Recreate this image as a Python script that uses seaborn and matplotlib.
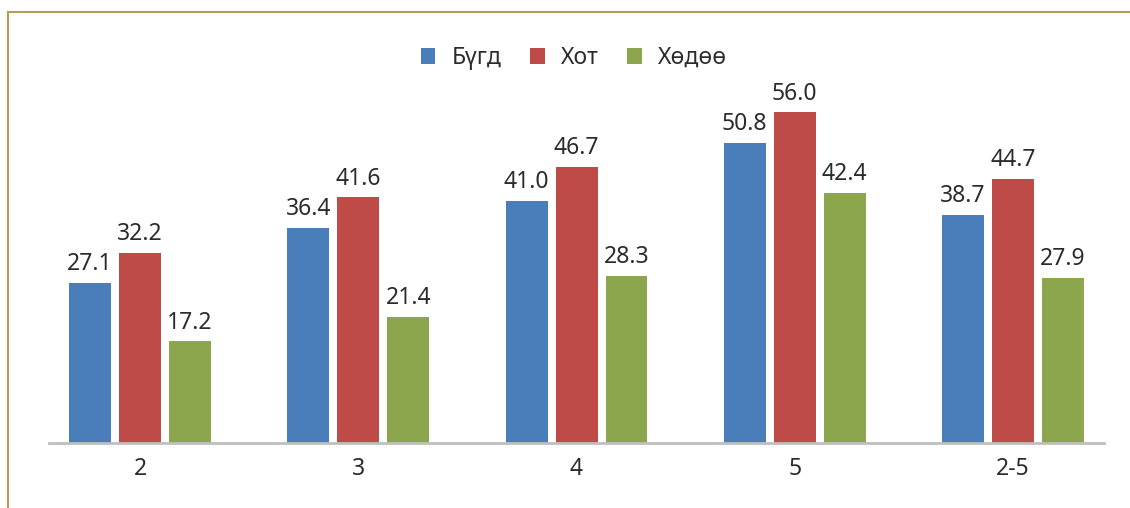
import pandas as pd
import matplotlib.pyplot as plt
import seaborn as sns
from matplotlib.patches import Rectangle

# data
ages = ["2", "3", "4", "5", "2-5"]
bugd = [27.1, 36.4, 41.0, 50.8, 38.7]
khot = [32.2, 41.6, 46.7, 56.0, 44.7]
khudoo = [17.2, 21.4, 28.3, 42.4, 27.9]
series_names = ["Бүгд", "Хот", "Хөдөө"]
colors = ["#4A7EBB", "#BE4B48", "#8BA64C"]

df = pd.DataFrame({
    "age": ages * 3,
    "value": bugd + khot + khudoo,
    "series": [s for s in series_names for _ in ages],
})

sns.set_theme(style="white")
plt.rcParams["font.family"] = ["Noto Sans", "DejaVu Sans"]

fs = 16.5
txt_color = "#2B2B2B"

fig = plt.figure(figsize=(11.3, 5.08), dpi=100)
ax = fig.add_axes([0.0434, 0.128, 0.9336, 0.754])

sns.barplot(
    data=df, x="age", y="value", hue="series",
    palette=colors, width=0.687, gap=0.16,
    saturation=1, linewidth=0, ax=ax, legend=True,
)

for container in ax.containers:
    ax.bar_label(container, fmt="%.1f", padding=5, fontsize=fs, color=txt_color)

ax.set_xlim(-0.417, 4.417)
ax.set_ylim(0, 64.9)
ax.set_xlabel("")
ax.set_ylabel("")
ax.set_yticks([])
ax.tick_params(axis="x", length=0, pad=10, labelsize=fs, labelcolor=txt_color)
for side in ["top", "right", "left"]:
    ax.spines[side].set_visible(False)
ax.spines["bottom"].set_color("#BFBFBF")
ax.spines["bottom"].set_linewidth(2)

handles, labels = ax.get_legend_handles_labels()
ax.get_legend().remove()
fig.legend(
    handles, labels, loc="center", bbox_to_anchor=(0.508, 0.886),
    ncol=3, frameon=False, fontsize=fs, handlelength=0.65, handleheight=0.65,
    columnspacing=1.25, handletextpad=0.7, labelcolor=txt_color,
)

# thin gold border around the chart area
fig.patches.append(Rectangle(
    (7.5 / 1130, -0.05), 1.1, 1 - 12.5 / 508 + 0.05,
    transform=fig.transFigure, fill=False, edgecolor="#B89B5B", linewidth=1.5,
))

fig.savefig("out.png", dpi=100)
